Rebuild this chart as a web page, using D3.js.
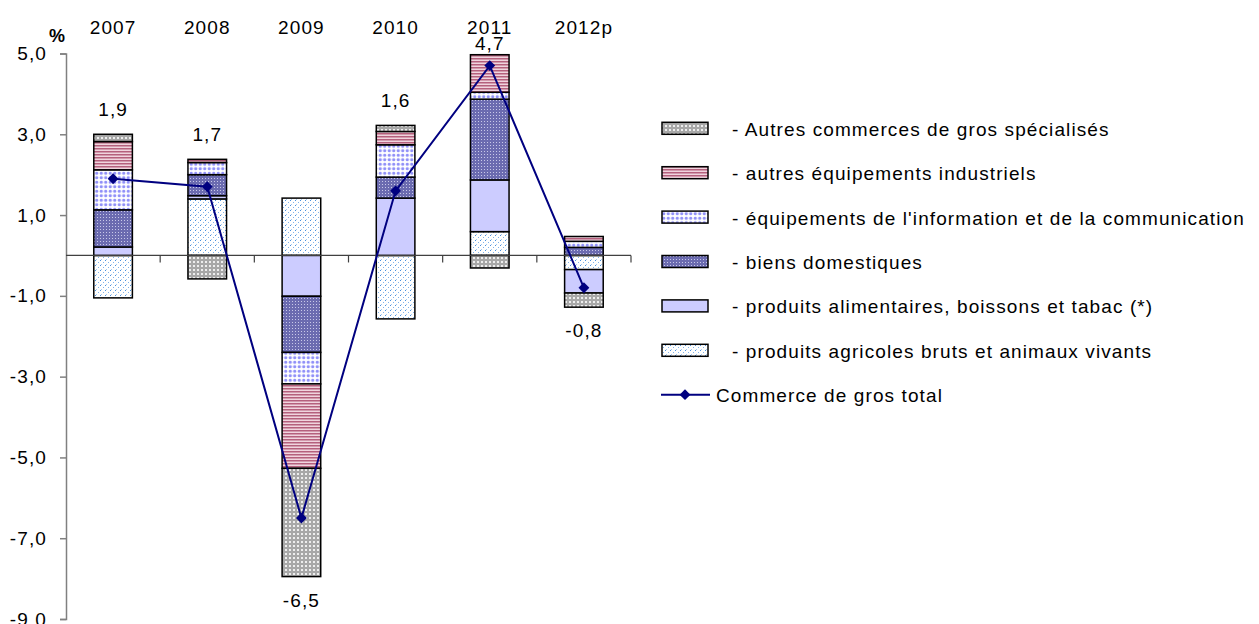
<!DOCTYPE html>
<html>
<head>
<meta charset="utf-8">
<script src="https://cdnjs.cloudflare.com/ajax/libs/d3/7.8.5/d3.min.js"></script>
<style>
  body { margin: 0; background: #fff; }
  text { font-family: "Liberation Sans", Arial, sans-serif; fill: #000; }
</style>
</head>
<body>
<svg id="chart" width="1259" height="624"></svg>
<script>
// values (% change)
var years = ['2007', '2008', '2009', '2010', '2011', '2012p'];
var agricoles = [-1.05, 1.40, 1.42, -1.57, 0.59, -0.35];
var alimentaires = [0.21, 0.08, -1.01, 1.42, 1.28, -0.58];
var biens = [0.92, 0.52, -1.39, 0.52, 2.00, 0.20];
var infoCom = [0.99, 0.30, -0.78, 0.80, 0.17, 0.15];
var equipInd = [0.70, 0.08, -2.09, 0.33, 0.93, 0.12];
var autresCommerces = [0.18, -0.58, -2.68, 0.15, -0.31, -0.35];
var total = [1.9, 1.7, -6.5, 1.6, 4.7, -0.8];
var yTicks = [5, 3, 1, -1, -3, -5, -7, -9];

var series = [
  {key: 'agricoles', label: '- produits agricoles bruts et animaux vivants', values: agricoles, fill: 'url(#pAgri)'},
  {key: 'alimentaires', label: '- produits alimentaires, boissons et tabac (*)', values: alimentaires, fill: '#ccccff'},
  {key: 'biens', label: '- biens domestiques', values: biens, fill: 'url(#pBiens)'},
  {key: 'infoCom', label: "- équipements de l'information et de la communication", values: infoCom, fill: 'url(#pInfo)'},
  {key: 'equipInd', label: '- autres équipements industriels', values: equipInd, fill: 'url(#pPink)'},
  {key: 'autresCommerces', label: '- Autres commerces de gros spécialisés', values: autresCommerces, fill: 'url(#pGris)'}
];

var FS = 19, LS = 1.1;  // excel text is wide, so a bit of letter spacing
var fmt = function(d) { return d3.format('.1f')(d).replace('.', ',').replace('\u2212', '-'); };

var svg = d3.select('#chart');
var defs = svg.append('defs');

// fill patterns, roughly like the excel ones
var p = defs.append('pattern').attr('id', 'pGris').attr('patternUnits', 'userSpaceOnUse').attr('width', 4).attr('height', 4);
p.append('rect').attr('width', 4).attr('height', 4).attr('fill', '#a8a8a8');
p.append('rect').attr('x', 1).attr('y', 1).attr('width', 2).attr('height', 2).attr('fill', '#eeeeee');

p = defs.append('pattern').attr('id', 'pPink').attr('patternUnits', 'userSpaceOnUse').attr('width', 4).attr('height', 3);
p.append('rect').attr('width', 4).attr('height', 3).attr('fill', '#f0d4de');
p.append('rect').attr('y', 1).attr('width', 4).attr('height', 1.5).attr('fill', '#b5607d');

p = defs.append('pattern').attr('id', 'pInfo').attr('patternUnits', 'userSpaceOnUse').attr('width', 4.5).attr('height', 4.5);
p.append('rect').attr('width', 4.5).attr('height', 4.5).attr('fill', '#ffffff');
p.append('circle').attr('cx', 2.25).attr('cy', 2.25).attr('r', 1.6).attr('fill', '#8e8ef8');

p = defs.append('pattern').attr('id', 'pBiens').attr('patternUnits', 'userSpaceOnUse').attr('width', 3).attr('height', 3);
p.append('rect').attr('width', 3).attr('height', 3).attr('fill', '#6b6bb0');
p.append('rect').attr('x', 1).attr('y', 1).attr('width', 1).attr('height', 1).attr('fill', '#c8c8e8');

p = defs.append('pattern').attr('id', 'pAgri').attr('patternUnits', 'userSpaceOnUse').attr('width', 5).attr('height', 5);
p.append('rect').attr('width', 5).attr('height', 5).attr('fill', '#ffffff');
p.append('rect').attr('x', 0).attr('y', 0).attr('width', 1).attr('height', 1).attr('fill', '#4a90dc');
p.append('rect').attr('x', 3).attr('y', 2).attr('width', 1).attr('height', 1).attr('fill', '#7fb3ea');
p.append('rect').attr('x', 1).attr('y', 4).attr('width', 1).attr('height', 1).attr('fill', '#a6caf0');

var x = d3.scaleBand().domain(years).range([66, 631]).paddingInner(0.59).paddingOuter(0.295);
var y = d3.scaleLinear().domain([-9, 5]).range([619, 53.5]);

var rows = years.map(function(yr, i) {
  var r = {year: yr};
  series.forEach(function(s) { r[s.key] = s.values[i]; });
  return r;
});
var stack = d3.stack().keys(series.map(function(s) { return s.key; })).offset(d3.stackOffsetDiverging);
var stacked = stack(rows);

// y axis
var yAxis = svg.append('g').attr('transform', 'translate(66,0)')
  .call(d3.axisLeft(y).tickValues(yTicks).tickSize(6).tickPadding(13).tickFormat(fmt));
yAxis.select('.domain').attr('stroke', '#808080').attr('stroke-width', 1.5);
yAxis.selectAll('.tick line').attr('stroke', '#808080').attr('stroke-width', 1.5);
yAxis.selectAll('.tick text').attr('font-size', FS).attr('letter-spacing', LS)
  .attr('font-family', '"Liberation Sans", Arial, sans-serif');

svg.append('text').attr('x', 57).attr('y', 42).attr('text-anchor', 'middle')
  .attr('font-size', 18).attr('font-weight', 'bold').text('%');

// bars
svg.append('g').selectAll('g').data(stacked).enter().append('g')
  .attr('fill', function(d, i) { return series[i].fill; })
  .selectAll('rect').data(function(d) { return d; }).enter().append('rect')
  .filter(function(d) { return d[1] !== d[0]; })
  .attr('x', function(d) { return x(d.data.year); })
  .attr('width', x.bandwidth())
  .attr('y', function(d) { return y(Math.max(d[0], d[1])); })
  .attr('height', function(d) { return Math.abs(y(d[0]) - y(d[1])); })
  .attr('stroke', '#000').attr('stroke-width', 1.5);

// x axis on zero with ticks between categories
var step = x.step();
var zx = svg.append('g');
zx.append('line').attr('x1', 66).attr('x2', 631).attr('y1', y(0)).attr('y2', y(0))
  .attr('stroke', '#404040').attr('stroke-width', 1.2);
zx.selectAll('.tk').data(years).enter().append('line')
  .attr('x1', function(d) { return x(d) - step * x.paddingOuter() + step; })
  .attr('x2', function(d) { return x(d) - step * x.paddingOuter() + step; })
  .attr('y1', y(0)).attr('y2', y(0) + 7)
  .attr('stroke', '#404040').attr('stroke-width', 1.2);

// year labels on top
svg.append('g').selectAll('text').data(years).enter().append('text')
  .attr('x', function(d) { return x(d) + x.bandwidth() / 2; })
  .attr('y', 34).attr('text-anchor', 'middle').attr('font-size', FS).attr('letter-spacing', LS)
  .text(function(d) { return d; });

// total line
var cx = function(d, i) { return x(years[i]) + x.bandwidth() / 2; };
var line = d3.line().x(cx).y(function(d) { return y(d); });
svg.append('path').datum(total).attr('d', line)
  .attr('fill', 'none').attr('stroke', '#000080').attr('stroke-width', 2);
svg.append('g').selectAll('path').data(total).enter().append('path')
  .attr('d', d3.symbol().type(d3.symbolDiamond2).size(75))
  .attr('transform', function(d, i) { return 'translate(' + cx(d, i) + ',' + y(d) + ')'; })
  .attr('fill', '#000080');

// value labels, above or below the stack
svg.append('g').selectAll('text').data(total).enter().append('text')
  .attr('x', cx).attr('text-anchor', 'middle').attr('font-size', FS).attr('letter-spacing', LS)
  .attr('y', function(d, i) {
    if (d >= 0) {
      var top = d3.max(stacked, function(s) { return s[i][1]; });
      return Math.max(y(top) - 18, 50);
    }
    var bot = d3.min(stacked, function(s) { return s[i][0]; });
    return y(bot) + 30;
  })
  .text(fmt);

// legend
var leg = svg.append('g');
var legItems = series.slice().reverse();
legItems.forEach(function(s, i) {
  var cy = 128.3 + i * 44.4;
  leg.append('rect').attr('x', 662).attr('y', cy - 6).attr('width', 46).attr('height', 12)
    .attr('fill', s.fill).attr('stroke', '#000').attr('stroke-width', 1.5);
  leg.append('text').attr('x', 732).attr('y', cy + 7.5).attr('font-size', FS).attr('letter-spacing', LS)
    .text(s.label);
});
var ly = 128.3 + 6 * 44.4;
leg.append('line').attr('x1', 661).attr('x2', 710).attr('y1', ly).attr('y2', ly)
  .attr('stroke', '#000080').attr('stroke-width', 2);
leg.append('path').attr('d', d3.symbol().type(d3.symbolDiamond2).size(75))
  .attr('transform', 'translate(685,' + ly + ')').attr('fill', '#000080');
leg.append('text').attr('x', 716).attr('y', ly + 7.5).attr('font-size', FS).attr('letter-spacing', LS)
  .text('Commerce de gros total');
</script>
</body>
</html>
